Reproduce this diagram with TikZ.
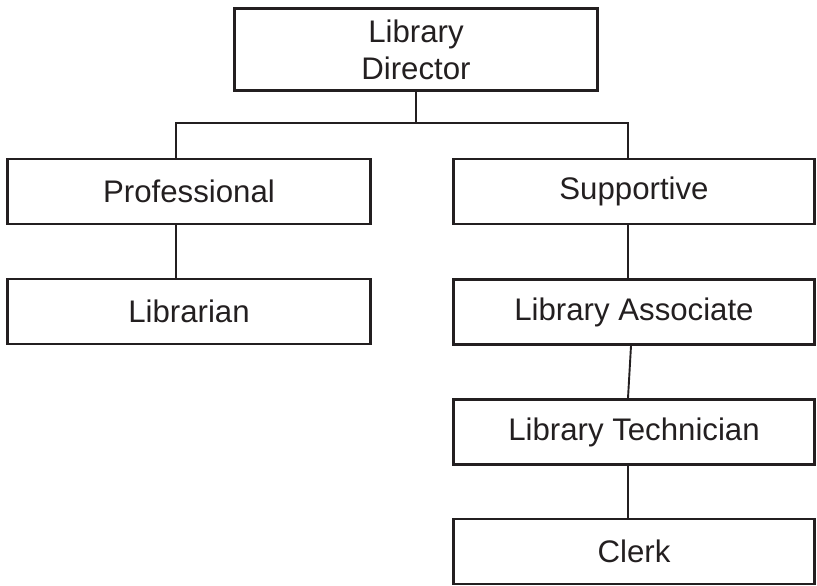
\documentclass[tikz,border=0pt]{standalone}
\usepackage{fontspec}
\setmainfont{Liberation Sans}
\usetikzlibrary{calc}
\definecolor{ink}{HTML}{231F20}
\begin{document}
\begin{tikzpicture}[x=1pt,y=-1pt,
  box/.style={draw=ink, line width=2.8pt, rectangle, inner sep=0pt, align=center,
    font=\fontsize{31.2}{37}\selectfont, text=ink, minimum height=65pt},
  wire/.style={draw=ink, line width=1.9pt}]
\useasboundingbox (0,0) rectangle (817,586);
\node[box, minimum width=363pt, minimum height=82pt] (dir) at (416,49.5) {Library\\Director};
\node[box, minimum width=363pt] (prof) at (189,191.5) {Professional};
\node[box, minimum width=361pt] (sup) at (634,191.5) {Supportive};
\node[box, minimum width=363pt] (lib) at (189,311.5) {Librarian};
\node[box, minimum width=361pt] (assoc) at (634,312) {Library Associate};
\node[box, minimum width=361pt] (tech) at (634,432) {Library Technician};
\node[box, minimum width=361pt] (clerk) at (634,551.5) {Clerk};
\coordinate (jL) at (176,123);
\coordinate (jR) at (628,123);
\draw[wire] (dir.south) -- (dir.south |- jL);
\draw[wire] (jL |- prof.north) -- (jL) -- (jR) -- (jR |- sup.north);
\draw[wire] (jL |- prof.south) -- (jL |- lib.north);
\draw[wire] (jR |- sup.south) -- (jR |- assoc.north);
\draw[wire] ($(assoc.south)+(-3,0)$) -- ($(tech.north)+(-6,0)$);
\draw[wire] (jR |- tech.south) -- (jR |- clerk.north);
\end{tikzpicture}
\end{document}
